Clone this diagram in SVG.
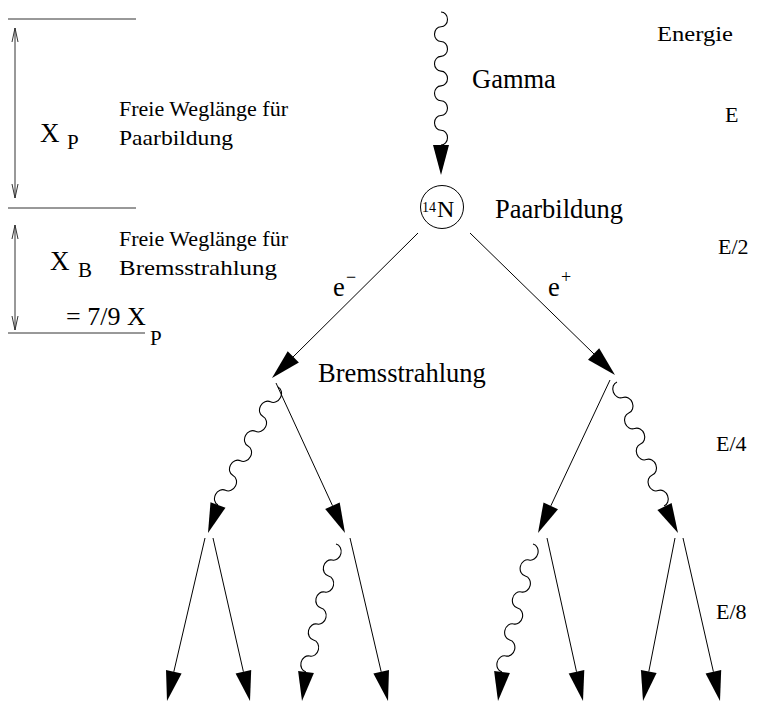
<svg xmlns="http://www.w3.org/2000/svg" width="760" height="704" viewBox="0 0 760 704">
<style>
text{font-family:"Liberation Serif","Times New Roman",serif;fill:#000}
.big{font-size:26.5px}
.sm{font-size:21px}
.lv{font-size:22px}
.ln{stroke:#000;stroke-width:1;fill:none}
.wv{stroke:#000;stroke-width:1.1;fill:none}
.ah{fill:#000;stroke:none}
.dim{stroke:#333;stroke-width:1;fill:none}
</style>
<rect width="760" height="704" fill="#fff"/>
<g id="scale-labels">
<text class="sm" x="657" y="41" textLength="76" lengthAdjust="spacingAndGlyphs">Energie</text>
<text class="lv" x="725" y="122">E</text>
<text class="lv" x="718" y="254">E/2</text>
<text class="lv" x="716" y="451">E/4</text>
<text class="lv" x="716" y="619">E/8</text>
</g>
<g id="legend-paar">
<line class="dim" x1="8" y1="19" x2="136" y2="19"/>
<line class="dim" x1="8" y1="208" x2="136" y2="208"/>
<path class="dim" d="M15,28 V198 M12,42 L15,28 L18,42 M12,184 L15,198 L18,184"/>
<text x="40" y="142" style="font-size:27px">X</text>
<text x="67" y="149" class="sm">P</text>
<text class="sm" x="119" y="116" textLength="169" lengthAdjust="spacingAndGlyphs">Freie Weglänge für</text>
<text class="sm" x="119" y="145" textLength="114" lengthAdjust="spacingAndGlyphs">Paarbildung</text>
</g>
<g id="legend-brems">
<line class="dim" x1="8" y1="333" x2="145" y2="333"/>
<path class="dim" d="M15,225 V330 M12,239 L15,225 L18,239 M12,316 L15,330 L18,316"/>
<text x="50" y="270" style="font-size:27px">X</text>
<text x="78" y="277" class="sm">B</text>
<text class="sm" x="119" y="246" textLength="169" lengthAdjust="spacingAndGlyphs">Freie Weglänge für</text>
<text class="sm" x="119" y="275" textLength="158" lengthAdjust="spacingAndGlyphs">Bremsstrahlung</text>
<text x="66" y="325" style="font-size:26px">= 7/9 X</text>
<text x="150" y="345" class="sm">P</text>
</g>
<g id="node-N">
<circle cx="442" cy="207" r="21.5" fill="none" stroke="#000" stroke-width="1"/>
<text x="422" y="212" style="font-size:14px">14</text>
<text x="437" y="217" style="font-size:24px">N</text>
</g>
<g id="labels">
<text class="big" x="333" y="296">e</text>
<text x="346" y="283" style="font-size:18px">−</text>
<text class="big" x="548" y="296">e</text>
<text x="561" y="283" style="font-size:18px">+</text>
<text class="big" x="472" y="88">Gamma</text>
<text class="big" x="495" y="218">Paarbildung</text>
<text class="big" x="318" y="382">Bremsstrahlung</text>
</g>
<g id="connectors">
<path class="wv" transform="translate(441,12) rotate(90)" d="M0,0 a7.39,6.5 0 0 1 14.78,0 a7.39,6.5 0 0 0 14.78,0 a7.39,6.5 0 0 1 14.78,0 a7.39,6.5 0 0 0 14.78,0 a7.39,6.5 0 0 1 14.78,0 a7.39,6.5 0 0 0 14.78,0 a7.39,6.5 0 0 1 14.78,0 a7.39,6.5 0 0 0 14.78,0 a7.39,6.5 0 0 1 14.78,0"/>
<polygon class="ah" points="441,175 433,145 449,145"/>
<line class="ln" x1="418" y1="233" x2="293" y2="357"/>
<polygon class="ah" points="272,378 298.9,362.6 287.7,351.2"/>
<line class="ln" x1="470" y1="233" x2="594" y2="354"/>
<polygon class="ah" points="615,375 588,359.7 599.2,348.3"/>
<line class="ln" x1="276" y1="383" x2="332.5" y2="505.7"/>
<polygon class="ah" points="345,533 325.2,509.1 339.7,502.4"/>
<path class="wv" transform="translate(278,387) rotate(116.95)" d="M0,0 a8.27,7 0 0 1 16.55,0 a8.27,7 0 0 0 16.55,0 a8.27,7 0 0 1 16.55,0 a8.27,7 0 0 0 16.55,0 a8.27,7 0 0 1 16.55,0 a8.27,7 0 0 0 16.55,0 a8.27,7 0 0 1 16.55,0 a8.27,7 0 0 0 16.55,0"/>
<polygon class="ah" points="208,533 225.5,507.7 210.5,502.3"/>
<line class="ln" x1="610" y1="380" x2="550.8" y2="505.9"/>
<polygon class="ah" points="538,533 558,509.3 543.5,502.4"/>
<path class="wv" transform="translate(617,382) rotate(69.24)" d="M0,0 a8.29,7 0 0 0 16.58,0 a8.29,7 0 0 1 16.58,0 a8.29,7 0 0 0 16.58,0 a8.29,7 0 0 1 16.58,0 a8.29,7 0 0 0 16.58,0 a8.29,7 0 0 1 16.58,0 a8.29,7 0 0 0 16.58,0 a8.29,7 0 0 1 16.58,0"/>
<polygon class="ah" points="678,533 657.4,510.1 671.6,502.9"/>
<line class="ln" x1="205" y1="538" x2="173.8" y2="671.8"/>
<polygon class="ah" points="167,701 181.6,673.6 166,670"/>
<line class="ln" x1="213" y1="538" x2="243.4" y2="671.7"/>
<polygon class="ah" points="250,701 235.6,673.5 251.2,670"/>
<path class="wv" transform="translate(336,544) rotate(103.19)" d="M0,0 a8.22,7 0 0 1 16.44,0 a8.22,7 0 0 0 16.44,0 a8.22,7 0 0 1 16.44,0 a8.22,7 0 0 0 16.44,0 a8.22,7 0 0 1 16.44,0 a8.22,7 0 0 0 16.44,0 a8.22,7 0 0 1 16.44,0 a8.22,7 0 0 0 16.44,0"/>
<polygon class="ah" points="302,701 313.9,673.1 298.1,670.9"/>
<line class="ln" x1="350" y1="538" x2="381.2" y2="671.8"/>
<polygon class="ah" points="388,701 373.4,673.6 389,670"/>
<path class="wv" transform="translate(533,544) rotate(103.61)" d="M0,0 a8.23,7 0 0 1 16.46,0 a8.23,7 0 0 0 16.46,0 a8.23,7 0 0 1 16.46,0 a8.23,7 0 0 0 16.46,0 a8.23,7 0 0 1 16.46,0 a8.23,7 0 0 0 16.46,0 a8.23,7 0 0 1 16.46,0 a8.23,7 0 0 0 16.46,0"/>
<polygon class="ah" points="498,701 509.9,673.1 494.1,670.9"/>
<line class="ln" x1="547" y1="538" x2="576.5" y2="671.7"/>
<polygon class="ah" points="583,701 568.7,673.4 584.3,670"/>
<line class="ln" x1="675" y1="538" x2="648.8" y2="671.6"/>
<polygon class="ah" points="643,701 656.6,673.1 640.9,670"/>
<line class="ln" x1="683" y1="538" x2="713.4" y2="671.7"/>
<polygon class="ah" points="720,701 705.6,673.5 721.2,670"/>
</g>
</svg>
